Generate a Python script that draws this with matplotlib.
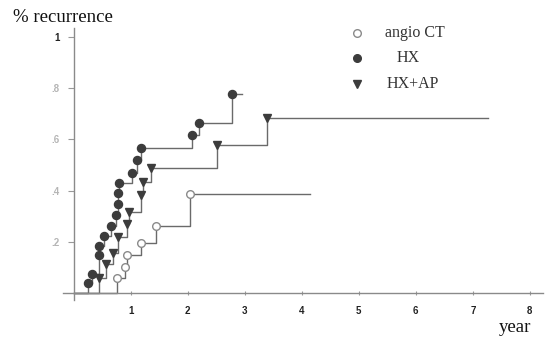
import matplotlib
matplotlib.use("Agg")
import matplotlib.pyplot as plt
from matplotlib.lines import Line2D

# ---- data ----
angio_x = [0.76, 0.89, 0.94, 1.18, 1.45, 2.04]
angio_y = [0.057, 0.100, 0.148, 0.196, 0.262, 0.387]
angio_end = 4.14

hx_x = [0.25, 0.32, 0.44, 0.44, 0.53, 0.65, 0.74, 0.77, 0.77, 0.79, 1.02, 1.10, 1.17, 2.07, 2.19, 2.78]
hx_y = [0.040, 0.073, 0.148, 0.184, 0.222, 0.263, 0.305, 0.348, 0.390, 0.430, 0.470, 0.520, 0.568, 0.617, 0.663, 0.778]
hx_end = 2.95

hxap_x = [0.44, 0.57, 0.68, 0.78, 0.94, 0.97, 1.18, 1.22, 1.35, 2.51, 3.38]
hxap_y = [0.057, 0.112, 0.155, 0.218, 0.270, 0.318, 0.383, 0.435, 0.487, 0.578, 0.685]
hxap_end = 7.27

series_labels = ["angio CT", "HX", "HX+AP"]
x_ticks = [1, 2, 3, 4, 5, 6, 7, 8]
y_ticks = [0.2, 0.4, 0.6, 0.8, 1.0]
y_tick_labels = [".2", ".4", ".6", ".8", "1"]

LINE = "#6a6a6a"
DARK = "#3c3c3c"

fig = plt.figure(figsize=(5.47, 3.38), dpi=100)
ax = fig.add_axes([63/547, 38/338, 480/547, 272/338])
ax.set_xlim(-0.19, 8.23)
ax.set_ylim(-0.027, 1.035)

for s in ["top", "right"]:
    ax.spines[s].set_visible(False)
ax.spines["left"].set_position(("data", 0))
ax.spines["bottom"].set_position(("data", 0))
for s in ["left", "bottom"]:
    ax.spines[s].set_color("#8a8a8a")
    ax.spines[s].set_linewidth(1.0)

def draw(xs, ys, end, marker, mfc, mec, ms):
    px = [0] + xs + [end]
    py = [0] + ys + [ys[-1]]
    ax.step(px, py, where="post", color=LINE, lw=1.0, zorder=2)
    ax.plot(xs, ys, ls="none", marker=marker, mfc=mfc, mec=mec, ms=ms, mew=1.0, zorder=3)

draw(angio_x, angio_y, angio_end, "o", "white", "#8a8a8a", 5.5)
draw(hx_x, hx_y, hx_end, "o", DARK, DARK, 5.8)
draw(hxap_x, hxap_y, hxap_end, "v", DARK, DARK, 5.8)

ax.set_xticks(x_ticks)
ax.set_xticklabels([str(t) for t in x_ticks], fontsize=7, fontweight="bold",
                   family="Liberation Sans", color="#222222")
ax.tick_params(axis="x", direction="inout", length=3, width=0.8, color="#999999", pad=8)
ax.set_yticks(y_ticks)
ax.set_yticklabels(y_tick_labels, fontsize=7, fontweight="bold",
                   family="Liberation Sans", color="#b5b5b5")
ax.get_yticklabels()[-1].set_color("#222222")
ax.tick_params(axis="y", direction="out", length=4, width=0.8, color="#999999", pad=6)

fig.text(13/547, 1 - 17/338, "% recurrence", family="Liberation Serif", fontsize=13.5,
         va="center", ha="left", color="#111111")
fig.text(531/547, 1 - 327/338, "year", family="Liberation Serif", fontsize=13.5,
         va="center", ha="right", color="#111111")

# manual legend
leg_styles = [("o", "white", "#8a8a8a"), ("o", DARK, DARK), ("v", DARK, DARK)]
leg_y = [33, 58, 84]
leg_tx = [385, 397, 387]
for lab, (m, fc, ec), yy, tx in zip(series_labels, leg_styles, leg_y, leg_tx):
    fig.add_artist(Line2D([357/547], [1 - yy/338], marker=m, mfc=fc, mec=ec, ms=5.5,
                          ls="none", transform=fig.transFigure))
    fig.text(tx/547, 1 - yy/338, lab, family="Liberation Serif", fontsize=11.5,
             va="center", ha="left", color="#333333")

fig.savefig("out.png", dpi=100)
